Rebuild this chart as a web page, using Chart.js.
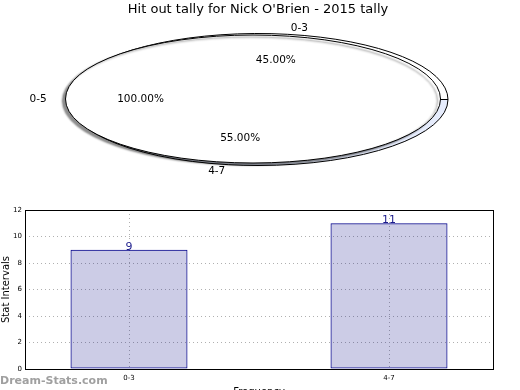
<!DOCTYPE html>
<html>
<head>
<meta charset="utf-8">
<script src="https://cdn.jsdelivr.net/npm/chart.js@4.4.1/dist/chart.umd.min.js"></script>
<style>
html,body{margin:0;padding:0;background:#fff;overflow:hidden;width:520px;height:390px}
#wrap{position:relative;width:520px;height:390px}
canvas{position:absolute;left:0}
#pieBack,#pieFront{top:0}
#bars{top:190px}
#mark{position:absolute;left:0;top:374px;font:bold 11px "DejaVu Sans";color:#a0a0a0;white-space:nowrap}
</style>
</head>
<body>
<div id="wrap">
<canvas id="pieBack" width="520" height="200"></canvas>
<canvas id="pieFront" width="520" height="200"></canvas>
<canvas id="bars" width="520" height="208"></canvas>
<div id="mark">Dream-Stats.com</div>
</div>
<script>
//datos de la grafica
var titulo = "Hit out tally for Nick O'Brien - 2015 tally";
var pieLabels = ['0-3', '4-7'];
var piePct = [45, 55];
var totalLabels = ['0-5'];
var totalPct = [100];
var categories = ['0-3', '4-7'];
var values = [9, 11];
var yTicks = [0, 2, 4, 6, 8, 10, 12];

var fuente = '"DejaVu Sans", sans-serif';

//plugin que aplasta el circulo en una elipse
function elipse(ry, sombra) {
    var base;
    return {
        id: 'elipse',
        beforeDatasetsDraw: function (chart) {
            var ctx = chart.ctx;
            var arc = chart.getDatasetMeta(0).data[0];
            base = ctx.getTransform();
            ctx.save();
            if (sombra) {
                ctx.shadowColor = 'rgba(0,0,0,0.45)';
                ctx.shadowBlur = 2;
                ctx.shadowOffsetX = -3;
                ctx.shadowOffsetY = 2;
                //tarta de un solo trozo: sin la linea del centro al borde
                ctx.lineTo = ctx.moveTo;
            }
            ctx.translate(arc.x, arc.y);
            ctx.scale(1, ry / arc.outerRadius);
            ctx.translate(-arc.x, -arc.y);
            //el trazo se hace sin escalar para que la linea no cambie de grosor
            ctx.stroke = function () {
                ctx.save();
                ctx.setTransform(base);
                CanvasRenderingContext2D.prototype.stroke.call(ctx);
                ctx.restore();
            };
        },
        afterDatasetsDraw: function (chart) {
            var ctx = chart.ctx;
            delete ctx.stroke;
            delete ctx.lineTo;
            ctx.restore();
        }
    };
}

//etiquetas de las dos tartas (se escriben encima de todo)
function etiquetas(chart, ry) {
    var ctx = chart.ctx;
    var ds = chart.data.datasets[0];
    chart.getDatasetMeta(0).data.forEach(function (arc, i) {
        var mid = (arc.startAngle + arc.endAngle) / 2;
        var c = Math.cos(mid), s = Math.sin(mid);
        var R = arc.outerRadius;
        ctx.save();
        ctx.fillStyle = '#000';
        ctx.font = '10.5px ' + fuente;
        ctx.textBaseline = 'middle';
        ctx.textAlign = c > 0 ? 'left' : 'right';
        ctx.fillText(chart.data.labels[i], arc.x + 1.1 * R * c, arc.y + 1.1 * ry * s);
        ctx.textAlign = 'center';
        ctx.fillText(ds.data[i].toFixed(2) + '%', arc.x + 0.6 * R * c, arc.y + 0.6 * ry * s);
        ctx.restore();
    });
}

//tarta de detras (0-3 y 4-7), se dibuja en sentido horario asi que va al reves
var backChart = new Chart(document.getElementById('pieBack'), {
    type: 'pie',
    data: {
        labels: pieLabels.slice().reverse(),
        datasets: [{
            data: piePct.slice().reverse(),
            backgroundColor: ['#e6ecfc', '#ffffff'],
            borderColor: '#000',
            borderWidth: 1,
            clip: false
        }]
    },
    options: {
        responsive: false,
        animation: false,
        rotation: 90,
        radius: 190,
        layout: {padding: {left: 0, right: 4, top: 0, bottom: 18.6}},
        plugins: {
            legend: {display: false},
            tooltip: {enabled: false},
            title: {
                display: true,
                text: titulo,
                color: '#000',
                font: {family: fuente, size: 13, weight: 'normal', lineHeight: 1.2},
                padding: {top: 2, bottom: 0}
            }
        }
    },
    plugins: [elipse(66, false)]
});

//tarta blanca de delante (0-5) con sombra
new Chart(document.getElementById('pieFront'), {
    type: 'pie',
    data: {
        labels: totalLabels,
        datasets: [{
            data: totalPct,
            backgroundColor: ['#ffffff'],
            borderColor: '#000',
            borderWidth: 1,
            clip: false
        }]
    },
    options: {
        responsive: false,
        animation: false,
        rotation: 90,
        radius: 187.5,
        layout: {padding: {left: 0, right: 14, top: 0, bottom: 2}},
        plugins: {legend: {display: false}, tooltip: {enabled: false}}
    },
    plugins: [elipse(64, true), {
        id: 'etiquetas',
        afterDraw: function (chart) {
            etiquetas(chart, 64);
            var c = chart.ctx;
            //las de la tarta de detras, con su propio centro
            var meta = backChart.getDatasetMeta(0);
            var fake = {ctx: c, data: backChart.data, getDatasetMeta: function () { return meta; }};
            etiquetas(fake, 66);
        }
    }]
});

//marco negro y valores encima de las barras
var marco = {
    id: 'marco',
    afterDatasetsDraw: function (chart) {
        var ctx = chart.ctx;
        ctx.save();
        ctx.font = '11px ' + fuente;
        ctx.fillStyle = '#1c1c8c';
        ctx.textAlign = 'center';
        ctx.textBaseline = 'alphabetic';
        chart.getDatasetMeta(0).data.forEach(function (bar, i) {
            ctx.fillText(String(values[i]), bar.x, bar.y);
        });
        ctx.restore();
    },
    afterDraw: function (chart) {
        var a = chart.chartArea;
        var ctx = chart.ctx;
        ctx.save();
        ctx.strokeStyle = '#000';
        ctx.lineWidth = 1;
        ctx.strokeRect(Math.round(a.left) + 0.5, Math.round(a.top) + 0.5, Math.round(a.right - a.left), Math.round(a.bottom - a.top));
        ctx.restore();
    }
};

new Chart(document.getElementById('bars'), {
    type: 'bar',
    data: {
        datasets: [{
            data: values.map(function (v, i) { return {x: i, y: v}; }),
            backgroundColor: 'rgba(0,0,128,0.2)',
            borderColor: '#00008b',
            borderWidth: 1,
            borderSkipped: false,
            barPercentage: 0.45,
            categoryPercentage: 1
        }]
    },
    options: {
        responsive: false,
        animation: false,
        layout: {padding: {left: 0, right: 27, top: 20, bottom: 0}},
        plugins: {legend: {display: false}, tooltip: {enabled: false}},
        scales: {
            x: {
                type: 'linear',
                min: -0.4,
                max: 1.4,
                offset: false,
                afterBuildTicks: function (scale) {
                    scale.ticks = categories.map(function (c, i) { return {value: i}; });
                },
                afterFit: function (scale) { scale.height = 29; },
                ticks: {
                    color: '#000',
                    font: {family: fuente, size: 7},
                    padding: 5,
                    maxRotation: 0,
                    callback: function (v) { return categories[v]; }
                },
                grid: {offset: false, drawTicks: false, color: '#b0b0b0', lineWidth: 1},
                border: {display: false, dash: [1, 3]},
                title: {
                    display: true,
                    text: 'Frequency',
                    color: '#000',
                    font: {family: fuente, size: 10, lineHeight: 1.2},
                    padding: 0
                }
            },
            y: {
                min: 0,
                max: 12,
                afterBuildTicks: function (scale) {
                    scale.ticks = yTicks.map(function (v) { return {value: v}; });
                },
                afterFit: function (scale) { scale.width = 25; },
                ticks: {color: '#000', font: {family: fuente, size: 7}, padding: 3},
                grid: {drawTicks: false, color: '#b0b0b0', lineWidth: 1},
                border: {display: false, dash: [1, 3]},
                title: {
                    display: true,
                    text: 'Stat Intervals',
                    color: '#000',
                    font: {family: fuente, size: 10, lineHeight: 1.2},
                    padding: 0
                }
            }
        }
    },
    plugins: [marco]
});
</script>
</body>
</html>
